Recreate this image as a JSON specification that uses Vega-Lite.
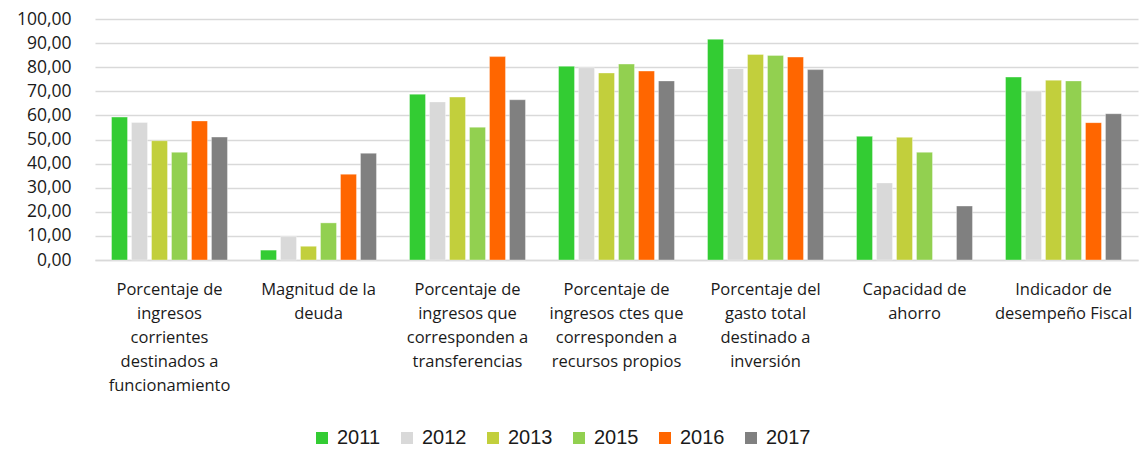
{
  "$schema": "https://vega.github.io/schema/vega-lite/v6.json",
  "width": 1043,
  "height": 241,
  "autosize": {"type": "none"},
  "padding": {"left": 95, "top": 19, "right": 5, "bottom": 191},
  "background": "white",
  "config": {
    "view": {"stroke": null},
    "font": "Open Sans"
  },
  "data": {
    "values": [
      {"indicador": "Porcentaje de ingresos corrientes destinados a funcionamiento", "anio": "2011", "valor": 59.3},
      {"indicador": "Porcentaje de ingresos corrientes destinados a funcionamiento", "anio": "2012", "valor": 57.1},
      {"indicador": "Porcentaje de ingresos corrientes destinados a funcionamiento", "anio": "2013", "valor": 49.5},
      {"indicador": "Porcentaje de ingresos corrientes destinados a funcionamiento", "anio": "2015", "valor": 44.7},
      {"indicador": "Porcentaje de ingresos corrientes destinados a funcionamiento", "anio": "2016", "valor": 57.7},
      {"indicador": "Porcentaje de ingresos corrientes destinados a funcionamiento", "anio": "2017", "valor": 51.0},
      {"indicador": "Magnitud de la deuda", "anio": "2011", "valor": 4.1},
      {"indicador": "Magnitud de la deuda", "anio": "2012", "valor": 9.7},
      {"indicador": "Magnitud de la deuda", "anio": "2013", "valor": 5.7},
      {"indicador": "Magnitud de la deuda", "anio": "2015", "valor": 15.4},
      {"indicador": "Magnitud de la deuda", "anio": "2016", "valor": 35.6},
      {"indicador": "Magnitud de la deuda", "anio": "2017", "valor": 44.3},
      {"indicador": "Porcentaje de ingresos que corresponden a transferencias", "anio": "2011", "valor": 68.8},
      {"indicador": "Porcentaje de ingresos que corresponden a transferencias", "anio": "2012", "valor": 65.6},
      {"indicador": "Porcentaje de ingresos que corresponden a transferencias", "anio": "2013", "valor": 67.6},
      {"indicador": "Porcentaje de ingresos que corresponden a transferencias", "anio": "2015", "valor": 55.1},
      {"indicador": "Porcentaje de ingresos que corresponden a transferencias", "anio": "2016", "valor": 84.4},
      {"indicador": "Porcentaje de ingresos que corresponden a transferencias", "anio": "2017", "valor": 66.5},
      {"indicador": "Porcentaje de ingresos ctes que corresponden a recursos propios", "anio": "2011", "valor": 80.4},
      {"indicador": "Porcentaje de ingresos ctes que corresponden a recursos propios", "anio": "2012", "valor": 79.8},
      {"indicador": "Porcentaje de ingresos ctes que corresponden a recursos propios", "anio": "2013", "valor": 77.6},
      {"indicador": "Porcentaje de ingresos ctes que corresponden a recursos propios", "anio": "2015", "valor": 81.3},
      {"indicador": "Porcentaje de ingresos ctes que corresponden a recursos propios", "anio": "2016", "valor": 78.4},
      {"indicador": "Porcentaje de ingresos ctes que corresponden a recursos propios", "anio": "2017", "valor": 74.3},
      {"indicador": "Porcentaje del gasto total destinado a inversión", "anio": "2011", "valor": 91.6},
      {"indicador": "Porcentaje del gasto total destinado a inversión", "anio": "2012", "valor": 79.4},
      {"indicador": "Porcentaje del gasto total destinado a inversión", "anio": "2013", "valor": 85.3},
      {"indicador": "Porcentaje del gasto total destinado a inversión", "anio": "2015", "valor": 84.9},
      {"indicador": "Porcentaje del gasto total destinado a inversión", "anio": "2016", "valor": 84.2},
      {"indicador": "Porcentaje del gasto total destinado a inversión", "anio": "2017", "valor": 79.0},
      {"indicador": "Capacidad de ahorro", "anio": "2011", "valor": 51.3},
      {"indicador": "Capacidad de ahorro", "anio": "2012", "valor": 32.0},
      {"indicador": "Capacidad de ahorro", "anio": "2013", "valor": 50.9},
      {"indicador": "Capacidad de ahorro", "anio": "2015", "valor": 44.7},
      {"indicador": "Capacidad de ahorro", "anio": "2017", "valor": 22.4},
      {"indicador": "Indicador de desempeño Fiscal", "anio": "2011", "valor": 75.9},
      {"indicador": "Indicador de desempeño Fiscal", "anio": "2012", "valor": 70.1},
      {"indicador": "Indicador de desempeño Fiscal", "anio": "2013", "valor": 74.6},
      {"indicador": "Indicador de desempeño Fiscal", "anio": "2015", "valor": 74.3},
      {"indicador": "Indicador de desempeño Fiscal", "anio": "2016", "valor": 57.0},
      {"indicador": "Indicador de desempeño Fiscal", "anio": "2017", "valor": 60.7}
    ]
  },
  "mark": {"type": "bar", "stroke": "white", "strokeOpacity": 0.35, "strokeWidth": 1},
  "encoding": {
    "x": {
      "field": "indicador",
      "type": "nominal",
      "sort": null,
      "scale": {"paddingInner": 0.195, "paddingOuter": 0.0975},
      "axis": {
        "title": null,
        "labelAngle": 0,
        "labelFontSize": 16.5,
        "labelColor": "#1a1a1a",
        "labelLineHeight": 24.2,
        "labelPadding": 21,
        "labelLimit": 0,
        "labelBaseline": "top",
        "ticks": false,
        "domainColor": "#D9D9D9",
        "domainWidth": 1.5,
        "labelExpr": "{'Porcentaje de ingresos corrientes destinados a funcionamiento': ['Porcentaje de','ingresos','corrientes','destinados a','funcionamiento'], 'Magnitud de la deuda': ['Magnitud de la','deuda'], 'Porcentaje de ingresos que corresponden a transferencias': ['Porcentaje de','ingresos que','corresponden a','transferencias'], 'Porcentaje de ingresos ctes que corresponden a recursos propios': ['Porcentaje de','ingresos ctes que','corresponden a','recursos propios'], 'Porcentaje del gasto total destinado a inversión': ['Porcentaje del','gasto total','destinado a','inversión'], 'Capacidad de ahorro': ['Capacidad de','ahorro'], 'Indicador de desempeño Fiscal': ['Indicador de','desempeño Fiscal']}[datum.value]"
      }
    },
    "xOffset": {
      "field": "anio",
      "type": "nominal",
      "scale": {"paddingInner": 0.2, "paddingOuter": 0.1}
    },
    "y": {
      "field": "valor",
      "type": "quantitative",
      "scale": {"domain": [0, 100], "nice": false},
      "axis": {
        "title": null,
        "values": [0, 10, 20, 30, 40, 50, 60, 70, 80, 90, 100],
        "labelExpr": "replace(format(datum.value, '.2f'), '.', ',')",
        "labelFontSize": 17.5,
        "labelColor": "#1a1a1a",
        "labelPadding": 24,
        "ticks": false,
        "domain": false,
        "gridColor": "#D9D9D9",
        "gridWidth": 1.5
      }
    },
    "color": {
      "field": "anio",
      "type": "nominal",
      "scale": {
        "domain": ["2011", "2012", "2013", "2015", "2016", "2017"],
        "range": ["#33CC33", "#D9D9D9", "#C2CF3C", "#92D050", "#FF6600", "#808080"]
      },
      "legend": {
        "title": null,
        "orient": "none",
        "direction": "horizontal",
        "legendX": 217,
        "legendY": 409,
        "symbolType": "square",
        "symbolSize": 144,
        "symbolStrokeWidth": 0,
        "symbolOpacity": 1,
        "labelFont": "Liberation Sans",
        "labelFontSize": 20,
        "labelColor": "#1a1a1a",
        "labelOffset": 5,
        "columnPadding": 16
      }
    }
  }
}
